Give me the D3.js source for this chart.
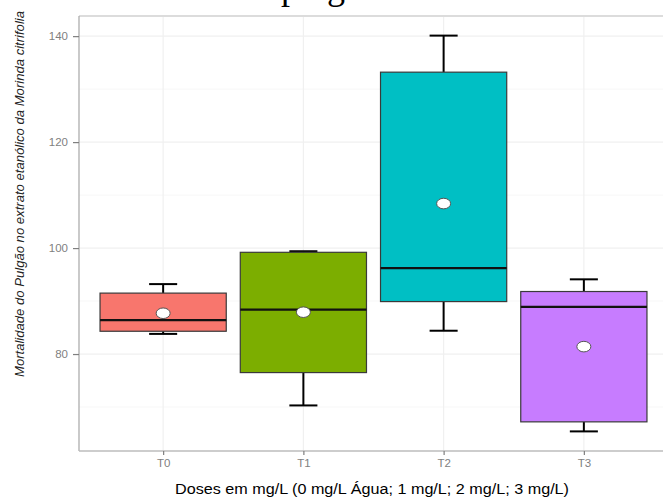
<!DOCTYPE html>
<html>
<head>
<meta charset="utf-8">
<script src="https://cdn.jsdelivr.net/npm/d3@7"></script>
<style>
  html, body { margin: 0; padding: 0; background: #fff; }
  svg { display: block; }
</style>
</head>
<body>
<script>
// data
const categories = ["T0", "T1", "T2", "T3"];
const whiskerLow = [83.8, 70.3, 84.4, 65.4];
const q1 = [84.3, 76.5, 89.9, 67.2];
const medians = [86.4, 88.4, 96.2, 88.9];
const q3 = [91.5, 99.2, 133.2, 91.8];
const whiskerHigh = [93.2, 99.4, 140.1, 94.1];
const means = [87.7, 87.9, 108.4, 81.4];
const fills = ["#F8766D", "#7CAE00", "#00BFC4", "#C77CFF"];
const yTicks = [80, 100, 120, 140];
const yMinor = [70, 90, 110, 130];

const W = 663, H = 499;
const panel = {left: 79, top: 16, right: 668, bottom: 451};

const svg = d3.select("body").append("svg").attr("width", W).attr("height", H);

const x = d3.scalePoint().domain(categories).range([panel.left, panel.right]).padding(0.6);
const y = d3.scaleLinear().domain([61.7, 143.8]).range([panel.bottom, panel.top]);
const step = x.step();

// title, cut off at the very top (only descenders show)
svg.append("text")
   .attr("x", 281).attr("y", -1.5)
   .attr("font-family", "Liberation Serif, Times New Roman, serif")
   .attr("font-size", 36)
   .attr("fill", "#000")
   .text("pulgão");

// grid
const grid = svg.append("g");
grid.selectAll("line.minor").data(yMinor).enter().append("line")
    .attr("x1", panel.left).attr("x2", panel.right)
    .attr("y1", d => y(d)).attr("y2", d => y(d))
    .attr("stroke", "#f7f7f7").attr("stroke-width", 1);
grid.selectAll("line.major").data(yTicks).enter().append("line")
    .attr("x1", panel.left).attr("x2", panel.right)
    .attr("y1", d => y(d)).attr("y2", d => y(d))
    .attr("stroke", "#f0f0f0").attr("stroke-width", 1.2);
grid.selectAll("line.vert").data(categories).enter().append("line")
    .attr("x1", d => x(d)).attr("x2", d => x(d))
    .attr("y1", panel.top).attr("y2", panel.bottom)
    .attr("stroke", "#f0f0f0").attr("stroke-width", 1.2);

// panel border lines
svg.append("line").attr("x1", panel.left).attr("x2", W).attr("y1", panel.top).attr("y2", panel.top)
   .attr("stroke", "#dcdcdc").attr("stroke-width", 2);
svg.append("line").attr("x1", panel.left).attr("x2", panel.left).attr("y1", panel.top).attr("y2", panel.bottom)
   .attr("stroke", "#a6a6a6").attr("stroke-width", 1.2);
svg.append("line").attr("x1", panel.left).attr("x2", W).attr("y1", panel.bottom).attr("y2", panel.bottom)
   .attr("stroke", "#bdbdbd").attr("stroke-width", 1.5);

// axes
const yAxis = d3.axisLeft(y).tickValues(yTicks).tickSize(6).tickPadding(5);
const gy = svg.append("g").attr("transform", `translate(${panel.left},0)`).call(yAxis);
gy.select(".domain").remove();
gy.selectAll(".tick line").attr("stroke", "#7f7f7f").attr("stroke-width", 1.2);
gy.selectAll(".tick text").attr("fill", "#7f7f7f")
  .attr("font-family", "Liberation Sans, Arial, sans-serif").attr("font-size", 11.5);

const xAxis = d3.axisBottom(x).tickSize(4).tickPadding(4);
const gx = svg.append("g").attr("transform", `translate(0,${panel.bottom})`).call(xAxis);
gx.select(".domain").remove();
gx.selectAll(".tick line").attr("stroke", "#7f7f7f").attr("stroke-width", 1.2);
gx.selectAll(".tick text").attr("fill", "#7f7f7f")
  .attr("font-family", "Liberation Sans, Arial, sans-serif").attr("font-size", 11.5);

// boxes
const data = categories.map((c, i) => ({
  cat: c, lo: whiskerLow[i], q1: q1[i], med: medians[i], q3: q3[i], hi: whiskerHigh[i], mean: means[i], fill: fills[i]
}));

const boxW = step * 0.9;
const capW = step * 0.2;
const g = svg.append("g");

// whiskers
g.selectAll("line.wl").data(data).enter().append("line")
 .attr("x1", d => x(d.cat)).attr("x2", d => x(d.cat))
 .attr("y1", d => y(d.lo)).attr("y2", d => y(d.q1))
 .attr("stroke", "#000").attr("stroke-width", 2);
g.selectAll("line.wh").data(data).enter().append("line")
 .attr("x1", d => x(d.cat)).attr("x2", d => x(d.cat))
 .attr("y1", d => y(d.hi)).attr("y2", d => y(d.q3))
 .attr("stroke", "#000").attr("stroke-width", 2);
g.selectAll("line.cl").data(data).enter().append("line")
 .attr("x1", d => x(d.cat) - capW / 2).attr("x2", d => x(d.cat) + capW / 2)
 .attr("y1", d => y(d.lo)).attr("y2", d => y(d.lo))
 .attr("stroke", "#000").attr("stroke-width", 2);
g.selectAll("line.ch").data(data).enter().append("line")
 .attr("x1", d => x(d.cat) - capW / 2).attr("x2", d => x(d.cat) + capW / 2)
 .attr("y1", d => y(d.hi)).attr("y2", d => y(d.hi))
 .attr("stroke", "#000").attr("stroke-width", 2);

g.selectAll("rect").data(data).enter().append("rect")
 .attr("x", d => x(d.cat) - boxW / 2)
 .attr("width", boxW)
 .attr("y", d => y(d.q3))
 .attr("height", d => y(d.q1) - y(d.q3))
 .attr("fill", d => d.fill)
 .attr("stroke", "#3a3a3a").attr("stroke-width", 1.2);

g.selectAll("line.med").data(data).enter().append("line")
 .attr("x1", d => x(d.cat) - boxW / 2).attr("x2", d => x(d.cat) + boxW / 2)
 .attr("y1", d => y(d.med)).attr("y2", d => y(d.med))
 .attr("stroke", "#111").attr("stroke-width", 2.2);

g.selectAll("ellipse").data(data).enter().append("ellipse")
 .attr("cx", d => x(d.cat)).attr("cy", d => y(d.mean))
 .attr("rx", 7).attr("ry", 5.3)
 .attr("fill", "#fff").attr("stroke", "#555").attr("stroke-width", 1);

// axis titles
svg.append("text")
   .attr("x", 372).attr("y", 494)
   .attr("text-anchor", "middle")
   .attr("font-family", "Liberation Sans, Arial, sans-serif").attr("font-size", 14)
   .attr("textLength", 394).attr("lengthAdjust", "spacingAndGlyphs")
   .attr("fill", "#000")
   .text("Doses em mg/L (0 mg/L Água; 1 mg/L; 2 mg/L; 3 mg/L)");

svg.append("text")
   .attr("transform", "translate(24,194) rotate(-90)")
   .attr("text-anchor", "middle")
   .attr("font-family", "Liberation Sans, Arial, sans-serif").attr("font-size", 12.5)
   .attr("font-style", "italic")
   .attr("textLength", 366).attr("lengthAdjust", "spacingAndGlyphs")
   .attr("fill", "#222")
   .text("Mortalidade do Pulgão no extrato etanólico da Morinda citrifolia");
</script>
</body>
</html>
